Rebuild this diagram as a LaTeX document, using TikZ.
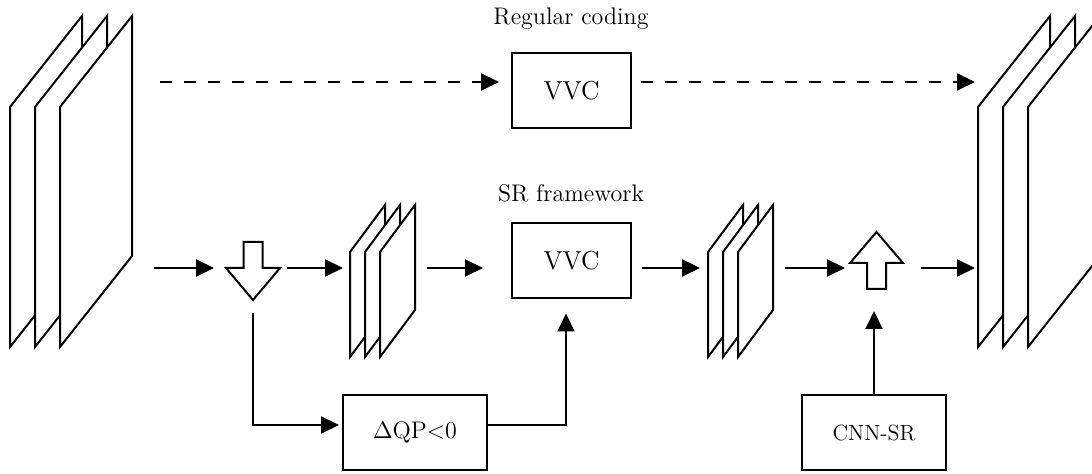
\documentclass[tikz,border=0pt]{standalone}
\usetikzlibrary{arrows.meta}
\begin{document}
\begin{tikzpicture}[x=0.5pt,y=-0.5pt,line width=1pt,
    arr/.style={-{Triangle[length=9pt,width=8.5pt]}},
    dashline/.style={dash pattern=on 6pt off 6pt},
    box/.style={draw, minimum width=59.5pt, minimum height=37.5pt, inner sep=0pt},
    holder/.style={inner sep=0pt, outer sep=0pt},
    lbl/.style={anchor=base, font=\fontsize{12}{14}\selectfont}]
  \useasboundingbox (0,0) rectangle (1092,474);
  \clip (0,0) rectangle (1092,474);
  % frame stacks
  \node[holder, minimum width=61pt, minimum height=165.5pt] (inframes) at (71,181.5) {};
  \node[holder, minimum width=61pt, minimum height=165.5pt] (outframes) at (1039,181.5) {};
  \node[holder, minimum width=32.5pt, minimum height=76pt] (lrframes) at (382.5,281) {};
  \node[holder, minimum width=32.5pt, minimum height=76pt] (decframes) at (740.5,281) {};
  \foreach \s in {inframes,outframes}
    \foreach \i in {0,1,2}
      \draw[fill=white, shift={(\s.south west)}] (25*\i,0) -- ++(0,-240) -- ++(72,-91) -- ++(0,240) -- cycle;
  \foreach \s in {lrframes,decframes}
    \foreach \i in {0,1,2}
      \draw[fill=white, shift={(\s.south west)}] (15*\i,0) -- ++(0,-105) -- ++(35,-47) -- ++(0,105) -- cycle;
  % boxes
  \node[box] (vvcA) at (571.5,90.5) {\fontsize{13}{15}\selectfont VVC};
  \node[box] (vvcB) at (571.5,261) {\fontsize{13}{15}\selectfont VVC};
  \node[box, minimum width=72pt] (dqp) at (415,432.5) {\fontsize{12}{14}\selectfont \(\Delta\)QP\(<\)0};
  \node[box, minimum width=72pt] (cnn) at (874,432.5) {\fontsize{11}{13}\selectfont CNN-SR};
  \node[lbl] (regular) at (571,25) {Regular coding};
  \node[lbl] (srlabel) at (571,202) {SR framework};
  % down/up sampling arrows
  \node[holder, minimum width=27pt, minimum height=29pt] (downs) at (253,271) {};
  \node[holder, minimum width=26.5pt, minimum height=28.5pt] (ups) at (876.5,260.5) {};
  \draw[shift={(downs.center)}] (-9.5,-29) -- (9.5,-29) -- (9.5,-3) -- (27,-3) -- (0,29) -- (-27,-3) -- (-9.5,-3) -- cycle;
  \draw[shift={(ups.center)}] (-9.5,28.5) -- (9.5,28.5) -- (9.5,2.5) -- (26.5,2.5) -- (0,-28.5) -- (-26.5,2.5) -- (-9.5,2.5) -- cycle;
  % rows
  \coordinate (toprow) at (0,82);
  \coordinate (midrow) at (0,268);
  % regular coding
  \draw[arr, dashline, shorten <=14pt, shorten >=6pt] (inframes.east |- toprow) -- (vvcA.west |- toprow);
  \draw[arr, dashline, shorten <=4.5pt, shorten >=1.5pt] (vvcA.east |- toprow) -- (outframes.west |- toprow);
  % SR framework
  \draw[arr, shorten <=11pt, shorten >=6pt] (inframes.east |- midrow) -- (downs.west |- midrow);
  \draw[arr, shorten <=3.5pt, shorten >=3.5pt] (downs.east |- midrow) -- (lrframes.west |- midrow);
  \draw[arr, shorten <=6pt, shorten >=14pt] (lrframes.east |- midrow) -- (vvcB.west |- midrow);
  \draw[arr, shorten <=5pt, shorten >=4pt] (vvcB.east |- midrow) -- (decframes.west |- midrow);
  \draw[arr, shorten <=6pt, shorten >=2.5pt] (decframes.east |- midrow) -- (ups.west |- midrow);
  \draw[arr, shorten <=9pt, shorten >=1.5pt] (ups.east |- midrow) -- (outframes.west |- midrow);
  \draw[arr, shorten <=6.5pt, shorten >=1.5pt] (downs.south) |- ([yshift=3.75pt]dqp.west);
  \draw[arr, shorten >=7pt] ([yshift=3.75pt]dqp.east) -| ([xshift=-2.75pt]vvcB.south);
  \draw[arr, shorten >=11pt] (cnn.north) -- (cnn.north |- ups.south);
\end{tikzpicture}
\end{document}
